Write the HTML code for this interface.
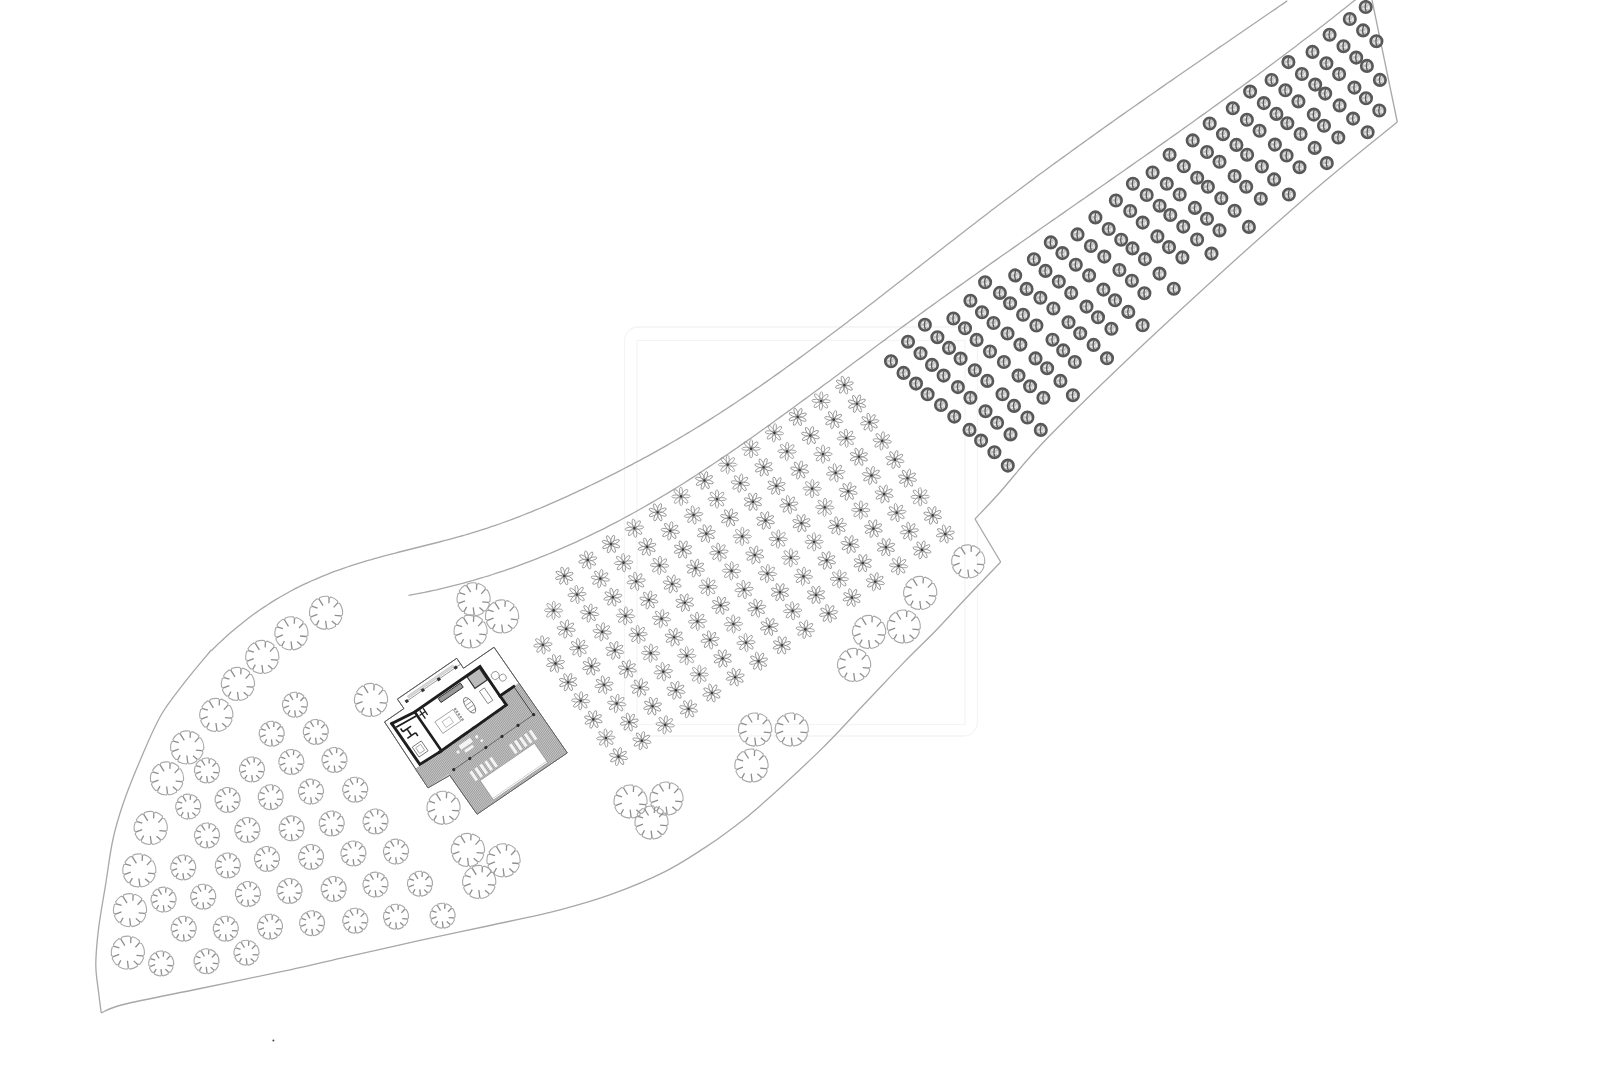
<!DOCTYPE html><html><head><meta charset="utf-8"><style>html,body{margin:0;padding:0;background:#fff;}svg{display:block}</style></head><body>
<svg width="1600" height="1066" viewBox="0 0 1600 1066">
<defs>
<g id="tl"><path d="M15.86 4.90A16.60 16.60 0 0 1 11.77 11.71L9.64 11.49L9.48 13.62A16.60 16.60 0 0 1 2.07 16.47L0.52 14.99L-0.91 16.57A16.60 16.60 0 0 1 -9.00 13.95L-9.23 11.82L-11.35 12.11A16.60 16.60 0 0 1 -15.58 5.72L-14.49 3.88L-16.36 2.84A16.60 16.60 0 0 1 -15.61 -5.63L-13.59 -6.34L-14.35 -8.34A16.60 16.60 0 0 1 -8.84 -14.05L-6.81 -13.37L-6.18 -15.41A16.60 16.60 0 0 1 1.98 -16.48L3.12 -14.67L4.90 -15.86A16.60 16.60 0 0 1 11.71 -11.77L11.49 -9.64L13.62 -9.48A16.60 16.60 0 0 1 16.48 1.98L14.67 3.12L15.86 4.90" fill="none" stroke="#a8a8a8" stroke-width="1.1"/><path d="M14.67 3.12L8.65 2.58M9.64 11.49L5.81 8.17M0.52 14.99L-0.36 8.02M-9.23 11.82L-7.00 7.62M-14.49 3.88L-8.55 1.57M-13.59 -6.34L-8.43 -4.78M-6.81 -13.37L-2.93 -7.11M3.12 -14.67L2.86 -9.60M11.49 -9.64L7.62 -5.42" stroke="#8e8e8e" stroke-width="1.3"/></g>
<g id="ts"><path d="M11.94 3.69A12.50 12.50 0 0 1 8.86 8.81L7.01 8.35L7.14 10.26A12.50 12.50 0 0 1 1.56 12.40L0.38 10.89L-0.69 12.48A12.50 12.50 0 0 1 -6.78 10.50L-6.71 8.59L-8.55 9.12A12.50 12.50 0 0 1 -11.73 4.31L-10.53 2.82L-12.32 2.14A12.50 12.50 0 0 1 -11.76 -4.24L-9.88 -4.61L-10.81 -6.28A12.50 12.50 0 0 1 -6.65 -10.58L-4.95 -9.71L-4.65 -11.60A12.50 12.50 0 0 1 1.49 -12.41L2.27 -10.66L3.69 -11.94A12.50 12.50 0 0 1 8.81 -8.86L8.35 -7.01L10.26 -7.14A12.50 12.50 0 0 1 12.41 1.49L10.66 2.27L11.94 3.69" fill="none" stroke="#a8a8a8" stroke-width="1.1"/><path d="M10.66 2.27L6.13 1.83M7.01 8.35L4.14 5.83M0.38 10.89L-0.25 5.64M-6.71 8.59L-5.01 5.45M-10.53 2.82L-6.05 1.11M-9.88 -4.61L-6.00 -3.41M-4.95 -9.71L-2.06 -4.99M2.27 -10.66L2.04 -6.85M8.35 -7.01L5.42 -3.85" stroke="#8e8e8e" stroke-width="1.3"/></g>
<g id="fl" fill="none" stroke="#939393" stroke-width="0.85"><ellipse cx="4.7" cy="0" rx="4.6" ry="1.55" transform="rotate(10)"/><ellipse cx="4.7" cy="0" rx="4.6" ry="1.55" transform="rotate(55)"/><ellipse cx="4.7" cy="0" rx="4.6" ry="1.55" transform="rotate(100)"/><ellipse cx="4.7" cy="0" rx="4.6" ry="1.55" transform="rotate(145)"/><ellipse cx="4.7" cy="0" rx="4.6" ry="1.55" transform="rotate(190)"/><ellipse cx="4.7" cy="0" rx="4.6" ry="1.55" transform="rotate(235)"/><ellipse cx="4.7" cy="0" rx="4.6" ry="1.55" transform="rotate(280)"/><ellipse cx="4.7" cy="0" rx="4.6" ry="1.55" transform="rotate(325)"/><circle r="1.3" fill="#3a3a3a" stroke="none"/></g>
<g id="dc"><circle r="5.75" fill="#c4c4c4" stroke="#585858" stroke-width="2.6"/><path d="M-3.2 -1.8 L1.5 -3 M-3 1.8 L2 1.2 M2.5 -1 L3.5 2.5" fill="none" stroke="#f2f2f2" stroke-width="1.1"/><path d="M0.5 -4.5 Q-1.5 0 0.5 4.5" fill="none" stroke="#5a5a5a" stroke-width="1.3"/></g>
</defs>
<g fill="none" stroke="#f4f4f4" stroke-width="1.3"><rect x="624.5" y="327" width="353" height="409" rx="14"/><rect x="637" y="340.5" width="328" height="384"/></g>
<g fill="none" stroke="#a8a8a8" stroke-width="1.3" stroke-linejoin="round">
<path d="M101.2 1012.9C100.8 1009.3 99.4 999.5 98.5 991.5C97.6 983.5 95.8 975.2 95.8 964.8C95.8 954.4 96.9 942.5 98.5 929.1C100.1 915.7 103.2 899.5 105.6 884.6C108.0 869.8 109.9 853.5 112.8 840.0C115.7 826.5 118.6 817.0 123.1 803.8C127.6 790.6 133.7 775.4 140.0 760.7C146.3 746.0 153.2 728.8 160.7 715.7C168.2 702.6 176.6 692.9 185.0 681.9C193.4 670.9 206.9 655.3 211.3 650.0"/>
<polyline points="211.3,650.7 215.3,646.8 219.3,642.9 223.3,639.2 227.3,635.6 231.3,632.1 235.3,628.7 239.3,625.4 243.3,622.2 247.3,619.1 251.3,616.1 255.3,613.1 259.3,610.3 263.3,607.6 267.3,605.0 271.3,602.4 275.3,599.9 279.3,597.5 283.3,595.2 287.3,593.0 291.3,590.8 295.3,588.7 299.3,586.7 303.3,584.7 307.3,582.9 311.3,581.0 315.3,579.3 319.3,577.6 323.3,575.9 327.3,574.3 331.3,572.7 335.3,571.2 339.3,569.8 343.3,568.4 347.3,567.0 351.3,565.7 355.3,564.4 359.3,563.1 363.3,561.9 367.3,560.7 371.3,559.6 375.3,558.4 379.3,557.3 383.3,556.2 387.3,555.2 391.3,554.1 395.3,553.1 399.3,552.0 403.3,551.0 407.3,550.0 411.3,549.0 415.3,548.0 419.3,547.0 423.3,546.0 427.3,545.0 431.3,544.0 435.3,543.0 439.3,542.0 443.3,540.9 447.3,539.9 451.3,538.8 455.3,537.7 459.3,536.6 463.3,535.5 467.3,534.3 471.3,533.1 475.3,531.9 479.3,530.7 483.3,529.4 487.3,528.1 491.3,526.7 495.3,525.4 499.3,524.0 503.3,522.5 507.3,521.1 511.3,519.6 515.3,518.1 519.3,516.6 523.3,515.0 527.3,513.4 531.3,511.8 535.3,510.2 539.3,508.5 543.3,506.8 547.3,505.1 551.3,503.4 555.3,501.6 559.3,499.9 563.3,498.1 567.3,496.3 571.3,494.4 575.3,492.6 579.3,490.7 583.3,488.8 587.3,486.9 591.3,485.0 595.3,483.1 599.3,481.1 603.3,479.1 607.3,477.1 611.3,475.1 615.3,473.1 619.3,471.1 623.3,469.0 627.3,466.9 631.3,464.8 635.3,462.7 639.3,460.6 643.3,458.4 647.3,456.3 651.3,454.1 655.3,451.9 659.3,449.6 663.3,447.4 667.3,445.1 671.3,442.8 675.3,440.5 679.3,438.1 683.3,435.8 687.3,433.4 691.3,431.0 695.3,428.5 699.3,426.1 703.3,423.6 707.3,421.1 711.3,418.6 715.3,416.0 719.3,413.5 723.3,410.9 727.3,408.3 731.3,405.6 735.3,403.0 739.3,400.3 743.3,397.6 747.3,394.9 751.3,392.2 755.3,389.4 759.3,386.7 763.3,383.9 767.3,381.1 771.3,378.3 775.3,375.4 779.3,372.6 783.3,369.7 787.3,366.8 791.3,363.9 795.3,361.0 799.3,358.1 803.3,355.2 807.3,352.2 811.3,349.3 815.3,346.3 819.3,343.3 823.3,340.3 827.3,337.3 831.3,334.3 835.3,331.3 839.3,328.3 843.3,325.2 847.3,322.2 851.3,319.1 855.3,316.1 859.3,313.0 863.3,309.9 867.3,306.8 871.3,303.7 875.3,300.7 879.3,297.6 883.3,294.5 887.3,291.3 891.3,288.2 895.3,285.1 899.3,282.0 903.3,278.9 907.3,275.8 911.3,272.7 915.3,269.5 919.3,266.4 923.3,263.3 927.3,260.2 931.3,257.0 935.3,253.9 939.3,250.8 943.3,247.7 947.3,244.6 951.3,241.5 955.3,238.4 959.3,235.3 963.3,232.2 967.3,229.1 971.3,226.0 975.3,222.9 979.3,219.8 983.3,216.8 987.3,213.7 991.3,210.6 995.3,207.6 999.3,204.6 1003.3,201.5 1007.3,198.5 1011.3,195.5 1015.3,192.5 1019.3,189.5 1023.3,186.5 1027.3,183.5 1031.3,180.6 1035.3,177.6 1039.3,174.6 1043.3,171.7 1047.3,168.7 1051.3,165.8 1055.3,162.9 1059.3,160.0 1063.3,157.1 1067.3,154.2 1071.3,151.3 1075.3,148.4 1079.3,145.5 1083.3,142.6 1087.3,139.7 1091.3,136.9 1095.3,134.0 1099.3,131.1 1103.3,128.3 1107.3,125.4 1111.3,122.6 1115.3,119.8 1119.3,116.9 1123.3,114.1 1127.3,111.3 1131.3,108.5 1135.3,105.7 1139.3,102.9 1143.3,100.1 1147.3,97.3 1151.3,94.5 1155.3,91.7 1159.3,88.9 1163.3,86.1 1167.3,83.3 1171.3,80.6 1175.3,77.8 1179.3,75.0 1183.3,72.3 1187.3,69.5 1191.3,66.7 1195.3,64.0 1199.3,61.2 1203.3,58.5 1207.3,55.7 1211.3,52.9 1215.3,50.2 1219.3,47.4 1223.3,44.7 1227.3,42.0 1231.3,39.2 1235.3,36.5 1239.3,33.7 1243.3,31.0 1247.3,28.2 1251.3,25.5 1255.3,22.8 1259.3,20.0 1263.3,17.3 1267.3,14.5 1271.3,11.8 1275.3,9.1 1279.3,6.3 1283.3,3.6 1287.3,0.8"/>
<polyline points="408.5,595.4 412.5,594.6 416.5,593.9 420.5,593.1 424.5,592.3 428.5,591.5 432.5,590.6 436.5,589.8 440.5,588.8 444.5,587.9 448.5,586.9 452.5,585.9 456.5,584.9 460.5,583.9 464.5,582.8 468.5,581.7 472.5,580.6 476.5,579.4 480.5,578.2 484.5,577.0 488.5,575.8 492.5,574.5 496.5,573.2 500.5,571.9 504.5,570.6 508.5,569.2 512.5,567.8 516.5,566.4 520.5,564.9 524.5,563.4 528.5,561.9 532.5,560.4 536.5,558.8 540.5,557.2 544.5,555.6 548.5,554.0 552.5,552.3 556.5,550.6 560.5,548.9 564.5,547.2 568.5,545.4 572.5,543.6 576.5,541.8 580.5,539.9 584.5,538.0 588.5,536.1 592.5,534.2 596.5,532.2 600.5,530.3 604.5,528.3 608.5,526.2 612.5,524.2 616.5,522.1 620.5,520.0 624.5,517.8 628.5,515.7 632.5,513.5 636.5,511.2 640.5,509.0 644.5,506.7 648.5,504.4 652.5,502.1 656.5,499.8 660.5,497.4 664.5,495.0 668.5,492.6 672.5,490.1 676.5,487.7 680.5,485.2 684.5,482.7 688.5,480.1 692.5,477.6 696.5,475.0 700.5,472.4 704.5,469.8 708.5,467.1 712.5,464.5 716.5,461.8 720.5,459.1 724.5,456.4 728.5,453.7 732.5,450.9 736.5,448.2 740.5,445.4 744.5,442.6 748.5,439.8 752.5,437.0 756.5,434.2 760.5,431.3 764.5,428.5 768.5,425.6 772.5,422.7 776.5,419.8 780.5,416.9 784.5,414.0 788.5,411.1 792.5,408.2 796.5,405.3 800.5,402.3 804.5,399.4 808.5,396.5 812.5,393.5 816.5,390.5 820.5,387.6 824.5,384.6 828.5,381.7 832.5,378.7 836.5,375.7 840.5,372.7 844.5,369.8 848.5,366.8 852.5,363.8 856.5,360.8 860.5,357.9 864.5,354.9 868.5,351.9 872.5,349.0 876.5,346.0 880.5,343.0 884.5,340.1 888.5,337.1 892.5,334.2 896.5,331.3 900.5,328.3 904.5,325.4 908.5,322.5 912.5,319.6 916.5,316.7 920.5,313.8 924.5,310.9 928.5,308.0 932.5,305.1 936.5,302.2 940.5,299.3 944.5,296.5 948.5,293.6 952.5,290.8 956.5,287.9 960.5,285.1 964.5,282.2 968.5,279.4 972.5,276.5 976.5,273.7 980.5,270.9 984.5,268.1 988.5,265.2 992.5,262.4 996.5,259.6 1000.5,256.8 1004.5,254.0 1008.5,251.2 1012.5,248.4 1016.5,245.6 1020.5,242.8 1024.5,240.0 1028.5,237.2 1032.5,234.4 1036.5,231.6 1040.5,228.8 1044.5,226.0 1048.5,223.2 1052.5,220.4 1056.5,217.7 1060.5,214.9 1064.5,212.1 1068.5,209.3 1072.5,206.5 1076.5,203.7 1080.5,200.9 1084.5,198.2 1088.5,195.4 1092.5,192.6 1096.5,189.8 1100.5,187.0 1104.5,184.2 1108.5,181.4 1112.5,178.6 1116.5,175.8 1120.5,173.0 1124.5,170.2 1128.5,167.4 1132.5,164.6 1136.5,161.8 1140.5,159.0 1144.5,156.2 1148.5,153.4 1152.5,150.6 1156.5,147.7 1160.5,144.9 1164.5,142.1 1168.5,139.3 1172.5,136.4 1176.5,133.6 1180.5,130.7 1184.5,127.9 1188.5,125.0 1192.5,122.2 1196.5,119.3 1200.5,116.4 1204.5,113.6 1208.5,110.7 1212.5,107.8 1216.5,104.9 1220.5,102.0 1224.5,99.1 1228.5,96.2 1232.5,93.3 1236.5,90.4 1240.5,87.4 1244.5,84.5 1248.5,81.6 1252.5,78.6 1256.5,75.7 1260.5,72.7 1264.5,69.7 1268.5,66.8 1272.5,63.8 1276.5,60.8 1280.5,57.8 1284.5,54.8 1288.5,51.7 1292.5,48.7 1296.5,45.7 1300.5,42.6 1304.5,39.6 1308.5,36.5 1312.5,33.4 1316.5,30.4 1320.5,27.3 1324.5,24.2 1328.5,21.0 1332.5,17.9 1336.5,14.8 1340.5,11.6 1344.5,8.5 1348.5,5.3 1352.5,2.1 1356.0,-0.6"/>
<polyline points="1372.0,0.0 1397.3,122.0"/>
<path d="M1397.3 122.0C1381.1 135.4 1339.5 167.9 1300.0 202.4C1260.5 236.9 1201.6 290.3 1160.0 329.0C1118.4 367.7 1077.3 407.6 1050.6 434.8C1023.9 462.0 1012.6 478.2 1000.0 492.2C987.4 506.2 979.2 514.5 975.0 519.0"/>
<polyline points="975.0,519.0 1000.7,562.0"/>
<path d="M1000.7 562.0C994.6 568.3 975.2 588.5 964.3 600.0C953.4 611.5 945.4 620.7 935.4 631.0C925.4 641.3 916.4 649.5 904.4 661.9C892.4 674.3 877.0 690.8 863.2 705.2C849.5 719.7 839.1 731.8 821.9 748.6C804.7 765.4 775.2 792.5 760.0 806.0C744.8 819.5 740.0 822.5 730.7 829.5C721.5 836.5 715.5 840.9 704.5 847.9C693.5 854.9 680.3 863.9 665.0 871.6C649.7 879.3 630.0 887.5 612.5 893.9C595.0 900.3 580.4 904.5 560.0 909.8C539.6 915.1 513.3 920.4 490.0 925.5C466.7 930.6 443.3 935.3 420.0 940.4C396.7 945.5 373.3 950.9 350.0 956.1C326.7 961.4 305.4 966.4 280.0 971.9C254.7 977.4 224.0 983.6 197.9 989.0C171.8 994.4 139.6 1000.5 123.5 1004.5C107.4 1008.5 104.9 1011.5 101.2 1012.9"/>
</g>
<use href="#tl" x="326.0" y="612.8"/>
<use href="#tl" x="291.4" y="633.4"/>
<use href="#tl" x="262.3" y="657.0"/>
<use href="#tl" x="237.9" y="684.0"/>
<use href="#tl" x="216.3" y="715.0"/>
<use href="#tl" x="187.2" y="747.5"/>
<use href="#tl" x="167.0" y="778.5"/>
<use href="#tl" x="150.7" y="828.0"/>
<use href="#tl" x="139.3" y="870.5"/>
<use href="#tl" x="130.0" y="910.2"/>
<use href="#tl" x="127.8" y="952.7"/>
<use href="#tl" x="371.0" y="700.0"/>
<use href="#tl" x="443.5" y="807.8"/>
<use href="#tl" x="467.9" y="850.0"/>
<use href="#tl" x="503.5" y="860.4"/>
<use href="#tl" x="479.2" y="882.0"/>
<use href="#tl" x="473.6" y="599.3"/>
<use href="#tl" x="502.1" y="616.5"/>
<use href="#tl" x="470.6" y="631.5"/>
<use href="#tl" x="968.2" y="561.5"/>
<use href="#tl" x="920.2" y="593.0"/>
<use href="#tl" x="903.7" y="626.6"/>
<use href="#tl" x="869.1" y="632.0"/>
<use href="#tl" x="854.1" y="665.0"/>
<use href="#tl" x="755.1" y="729.6"/>
<use href="#tl" x="791.7" y="729.6"/>
<use href="#tl" x="751.5" y="765.6"/>
<use href="#tl" x="630.5" y="801.6"/>
<use href="#tl" x="666.5" y="798.6"/>
<use href="#tl" x="651.5" y="822.6"/>
<use href="#ts" x="295.0" y="704.8"/>
<use href="#ts" x="271.7" y="733.8"/>
<use href="#ts" x="315.8" y="732.0"/>
<use href="#ts" x="291.4" y="762.0"/>
<use href="#ts" x="334.5" y="760.0"/>
<use href="#ts" x="252.0" y="769.5"/>
<use href="#ts" x="207.0" y="770.5"/>
<use href="#ts" x="188.2" y="806.6"/>
<use href="#ts" x="227.6" y="800.0"/>
<use href="#ts" x="270.7" y="797.2"/>
<use href="#ts" x="311.0" y="791.6"/>
<use href="#ts" x="355.2" y="789.7"/>
<use href="#ts" x="207.0" y="835.5"/>
<use href="#ts" x="247.4" y="830.0"/>
<use href="#ts" x="291.6" y="828.4"/>
<use href="#ts" x="331.7" y="823.5"/>
<use href="#ts" x="375.5" y="821.5"/>
<use href="#ts" x="183.2" y="867.5"/>
<use href="#ts" x="227.8" y="865.5"/>
<use href="#ts" x="267.0" y="859.0"/>
<use href="#ts" x="311.1" y="857.0"/>
<use href="#ts" x="353.4" y="853.5"/>
<use href="#ts" x="396.0" y="851.6"/>
<use href="#ts" x="163.6" y="899.6"/>
<use href="#ts" x="203.2" y="896.7"/>
<use href="#ts" x="248.0" y="894.0"/>
<use href="#ts" x="289.5" y="891.0"/>
<use href="#ts" x="333.7" y="889.0"/>
<use href="#ts" x="375.5" y="884.6"/>
<use href="#ts" x="420.0" y="883.8"/>
<use href="#ts" x="183.7" y="928.7"/>
<use href="#ts" x="225.8" y="928.7"/>
<use href="#ts" x="270.0" y="926.7"/>
<use href="#ts" x="312.1" y="923.3"/>
<use href="#ts" x="355.3" y="920.7"/>
<use href="#ts" x="396.0" y="916.7"/>
<use href="#ts" x="442.6" y="915.7"/>
<use href="#ts" x="161.2" y="963.5"/>
<use href="#ts" x="206.5" y="961.3"/>
<use href="#ts" x="246.5" y="952.7"/>
<use href="#fl" transform="translate(844.4 385.1) rotate(20)"/>
<use href="#fl" transform="translate(857.0 403.7) rotate(9)"/>
<use href="#fl" transform="translate(869.6 422.3) rotate(25)"/>
<use href="#fl" transform="translate(882.2 440.9) rotate(41)"/>
<use href="#fl" transform="translate(894.9 459.6) rotate(3)"/>
<use href="#fl" transform="translate(907.5 478.2) rotate(4)"/>
<use href="#fl" transform="translate(920.1 496.8) rotate(34)"/>
<use href="#fl" transform="translate(932.7 515.4) rotate(6)"/>
<use href="#fl" transform="translate(945.3 534.0) rotate(23)"/>
<use href="#fl" transform="translate(821.1 401.0) rotate(37)"/>
<use href="#fl" transform="translate(833.7 419.6) rotate(3)"/>
<use href="#fl" transform="translate(846.3 438.2) rotate(32)"/>
<use href="#fl" transform="translate(858.9 456.8) rotate(13)"/>
<use href="#fl" transform="translate(871.5 475.5) rotate(2)"/>
<use href="#fl" transform="translate(884.1 494.1) rotate(5)"/>
<use href="#fl" transform="translate(896.7 512.7) rotate(27)"/>
<use href="#fl" transform="translate(909.3 531.3) rotate(26)"/>
<use href="#fl" transform="translate(922.0 549.9) rotate(4)"/>
<use href="#fl" transform="translate(797.7 416.9) rotate(15)"/>
<use href="#fl" transform="translate(810.4 435.5) rotate(5)"/>
<use href="#fl" transform="translate(823.0 454.1) rotate(35)"/>
<use href="#fl" transform="translate(835.6 472.8) rotate(27)"/>
<use href="#fl" transform="translate(848.2 491.4) rotate(3)"/>
<use href="#fl" transform="translate(860.8 510.0) rotate(36)"/>
<use href="#fl" transform="translate(873.4 528.6) rotate(7)"/>
<use href="#fl" transform="translate(886.0 547.2) rotate(14)"/>
<use href="#fl" transform="translate(898.6 565.8) rotate(40)"/>
<use href="#fl" transform="translate(774.4 432.8) rotate(40)"/>
<use href="#fl" transform="translate(787.0 451.4) rotate(37)"/>
<use href="#fl" transform="translate(799.6 470.0) rotate(3)"/>
<use href="#fl" transform="translate(812.2 488.6) rotate(36)"/>
<use href="#fl" transform="translate(824.8 507.3) rotate(37)"/>
<use href="#fl" transform="translate(837.4 525.9) rotate(25)"/>
<use href="#fl" transform="translate(850.1 544.5) rotate(3)"/>
<use href="#fl" transform="translate(862.7 563.1) rotate(14)"/>
<use href="#fl" transform="translate(875.3 581.7) rotate(2)"/>
<use href="#fl" transform="translate(751.1 448.7) rotate(35)"/>
<use href="#fl" transform="translate(763.7 467.3) rotate(8)"/>
<use href="#fl" transform="translate(776.3 485.9) rotate(18)"/>
<use href="#fl" transform="translate(788.9 504.6) rotate(26)"/>
<use href="#fl" transform="translate(801.5 523.2) rotate(9)"/>
<use href="#fl" transform="translate(814.1 541.8) rotate(34)"/>
<use href="#fl" transform="translate(826.7 560.4) rotate(7)"/>
<use href="#fl" transform="translate(839.3 579.0) rotate(36)"/>
<use href="#fl" transform="translate(851.9 597.6) rotate(19)"/>
<use href="#fl" transform="translate(727.7 464.6) rotate(35)"/>
<use href="#fl" transform="translate(740.3 483.2) rotate(43)"/>
<use href="#fl" transform="translate(752.9 501.8) rotate(11)"/>
<use href="#fl" transform="translate(765.5 520.5) rotate(6)"/>
<use href="#fl" transform="translate(778.2 539.1) rotate(37)"/>
<use href="#fl" transform="translate(790.8 557.7) rotate(36)"/>
<use href="#fl" transform="translate(803.4 576.3) rotate(40)"/>
<use href="#fl" transform="translate(816.0 594.9) rotate(12)"/>
<use href="#fl" transform="translate(828.6 613.5) rotate(23)"/>
<use href="#fl" transform="translate(704.4 480.5) rotate(6)"/>
<use href="#fl" transform="translate(717.0 499.1) rotate(35)"/>
<use href="#fl" transform="translate(729.6 517.7) rotate(4)"/>
<use href="#fl" transform="translate(742.2 536.4) rotate(36)"/>
<use href="#fl" transform="translate(754.8 555.0) rotate(3)"/>
<use href="#fl" transform="translate(767.4 573.6) rotate(39)"/>
<use href="#fl" transform="translate(780.0 592.2) rotate(13)"/>
<use href="#fl" transform="translate(792.6 610.8) rotate(31)"/>
<use href="#fl" transform="translate(805.3 629.4) rotate(43)"/>
<use href="#fl" transform="translate(681.0 496.4) rotate(34)"/>
<use href="#fl" transform="translate(693.6 515.0) rotate(27)"/>
<use href="#fl" transform="translate(706.3 533.6) rotate(20)"/>
<use href="#fl" transform="translate(718.9 552.2) rotate(29)"/>
<use href="#fl" transform="translate(731.5 570.9) rotate(37)"/>
<use href="#fl" transform="translate(744.1 589.5) rotate(29)"/>
<use href="#fl" transform="translate(756.7 608.1) rotate(23)"/>
<use href="#fl" transform="translate(769.3 626.7) rotate(19)"/>
<use href="#fl" transform="translate(781.9 645.3) rotate(15)"/>
<use href="#fl" transform="translate(657.7 512.3) rotate(11)"/>
<use href="#fl" transform="translate(670.3 530.9) rotate(44)"/>
<use href="#fl" transform="translate(682.9 549.5) rotate(15)"/>
<use href="#fl" transform="translate(695.5 568.1) rotate(5)"/>
<use href="#fl" transform="translate(708.1 586.8) rotate(36)"/>
<use href="#fl" transform="translate(720.7 605.4) rotate(19)"/>
<use href="#fl" transform="translate(733.4 624.0) rotate(33)"/>
<use href="#fl" transform="translate(746.0 642.6) rotate(31)"/>
<use href="#fl" transform="translate(758.6 661.2) rotate(21)"/>
<use href="#fl" transform="translate(634.4 528.2) rotate(28)"/>
<use href="#fl" transform="translate(647.0 546.8) rotate(18)"/>
<use href="#fl" transform="translate(659.6 565.4) rotate(38)"/>
<use href="#fl" transform="translate(672.2 584.0) rotate(4)"/>
<use href="#fl" transform="translate(684.8 602.7) rotate(7)"/>
<use href="#fl" transform="translate(697.4 621.3) rotate(32)"/>
<use href="#fl" transform="translate(710.0 639.9) rotate(26)"/>
<use href="#fl" transform="translate(722.6 658.5) rotate(10)"/>
<use href="#fl" transform="translate(735.2 677.1) rotate(21)"/>
<use href="#fl" transform="translate(611.0 544.1) rotate(9)"/>
<use href="#fl" transform="translate(623.6 562.7) rotate(31)"/>
<use href="#fl" transform="translate(636.2 581.3) rotate(26)"/>
<use href="#fl" transform="translate(648.9 600.0) rotate(2)"/>
<use href="#fl" transform="translate(661.5 618.6) rotate(42)"/>
<use href="#fl" transform="translate(674.1 637.2) rotate(4)"/>
<use href="#fl" transform="translate(686.7 655.8) rotate(35)"/>
<use href="#fl" transform="translate(699.3 674.4) rotate(36)"/>
<use href="#fl" transform="translate(711.9 693.0) rotate(20)"/>
<use href="#fl" transform="translate(587.7 560.0) rotate(21)"/>
<use href="#fl" transform="translate(600.3 578.6) rotate(44)"/>
<use href="#fl" transform="translate(612.9 597.2) rotate(22)"/>
<use href="#fl" transform="translate(625.5 615.9) rotate(38)"/>
<use href="#fl" transform="translate(638.1 634.5) rotate(31)"/>
<use href="#fl" transform="translate(650.7 653.1) rotate(37)"/>
<use href="#fl" transform="translate(663.3 671.7) rotate(29)"/>
<use href="#fl" transform="translate(675.9 690.3) rotate(4)"/>
<use href="#fl" transform="translate(688.6 708.9) rotate(5)"/>
<use href="#fl" transform="translate(564.3 575.9) rotate(17)"/>
<use href="#fl" transform="translate(577.0 594.5) rotate(30)"/>
<use href="#fl" transform="translate(589.6 613.1) rotate(44)"/>
<use href="#fl" transform="translate(602.2 631.8) rotate(42)"/>
<use href="#fl" transform="translate(614.8 650.4) rotate(4)"/>
<use href="#fl" transform="translate(627.4 669.0) rotate(3)"/>
<use href="#fl" transform="translate(640.0 687.6) rotate(44)"/>
<use href="#fl" transform="translate(652.6 706.2) rotate(19)"/>
<use href="#fl" transform="translate(665.2 724.8) rotate(41)"/>
<use href="#fl" transform="translate(553.6 610.4) rotate(36)"/>
<use href="#fl" transform="translate(566.2 629.0) rotate(43)"/>
<use href="#fl" transform="translate(578.8 647.6) rotate(28)"/>
<use href="#fl" transform="translate(591.4 666.3) rotate(18)"/>
<use href="#fl" transform="translate(604.0 684.9) rotate(24)"/>
<use href="#fl" transform="translate(616.7 703.5) rotate(42)"/>
<use href="#fl" transform="translate(629.3 722.1) rotate(22)"/>
<use href="#fl" transform="translate(641.9 740.7) rotate(1)"/>
<use href="#fl" transform="translate(542.9 644.9) rotate(29)"/>
<use href="#fl" transform="translate(555.5 663.5) rotate(22)"/>
<use href="#fl" transform="translate(568.1 682.2) rotate(10)"/>
<use href="#fl" transform="translate(580.7 700.8) rotate(39)"/>
<use href="#fl" transform="translate(593.3 719.4) rotate(7)"/>
<use href="#fl" transform="translate(605.9 738.0) rotate(31)"/>
<use href="#fl" transform="translate(618.5 756.6) rotate(3)"/>
<use href="#dc" x="970.4" y="300.7"/>
<use href="#dc" x="999.9" y="292.9"/>
<use href="#dc" x="1026.6" y="288.9"/>
<use href="#dc" x="1040.4" y="297.8"/>
<use href="#dc" x="1071.2" y="292.9"/>
<use href="#dc" x="982.0" y="312.3"/>
<use href="#dc" x="1010.1" y="303.2"/>
<use href="#dc" x="1053.4" y="308.5"/>
<use href="#dc" x="953.4" y="318.5"/>
<use href="#dc" x="993.5" y="323.0"/>
<use href="#dc" x="1023.1" y="314.8"/>
<use href="#dc" x="1036.4" y="325.5"/>
<use href="#dc" x="1068.5" y="322.3"/>
<use href="#dc" x="924.9" y="324.8"/>
<use href="#dc" x="965.0" y="328.3"/>
<use href="#dc" x="1007.5" y="333.5"/>
<use href="#dc" x="1052.5" y="339.7"/>
<use href="#dc" x="937.4" y="337.2"/>
<use href="#dc" x="976.6" y="339.9"/>
<use href="#dc" x="1020.4" y="344.6"/>
<use href="#dc" x="1063.2" y="350.4"/>
<use href="#dc" x="908.0" y="341.7"/>
<use href="#dc" x="949.0" y="347.9"/>
<use href="#dc" x="990.0" y="351.5"/>
<use href="#dc" x="1035.5" y="358.4"/>
<use href="#dc" x="1074.8" y="362.0"/>
<use href="#dc" x="920.5" y="353.3"/>
<use href="#dc" x="960.6" y="358.6"/>
<use href="#dc" x="1003.9" y="362.0"/>
<use href="#dc" x="1047.1" y="368.2"/>
<use href="#dc" x="891.0" y="361.3"/>
<use href="#dc" x="932.0" y="364.9"/>
<use href="#dc" x="974.8" y="370.2"/>
<use href="#dc" x="1018.5" y="375.6"/>
<use href="#dc" x="1060.4" y="380.9"/>
<use href="#dc" x="903.5" y="372.9"/>
<use href="#dc" x="943.6" y="375.6"/>
<use href="#dc" x="987.3" y="380.9"/>
<use href="#dc" x="1030.1" y="386.3"/>
<use href="#dc" x="916.0" y="383.6"/>
<use href="#dc" x="957.9" y="387.1"/>
<use href="#dc" x="1002.5" y="394.3"/>
<use href="#dc" x="1043.4" y="397.8"/>
<use href="#dc" x="1072.9" y="395.2"/>
<use href="#dc" x="927.6" y="394.3"/>
<use href="#dc" x="970.4" y="397.8"/>
<use href="#dc" x="1014.0" y="405.9"/>
<use href="#dc" x="941.0" y="405.0"/>
<use href="#dc" x="985.5" y="411.2"/>
<use href="#dc" x="1027.4" y="417.5"/>
<use href="#dc" x="954.3" y="416.6"/>
<use href="#dc" x="997.1" y="422.8"/>
<use href="#dc" x="1040.8" y="429.9"/>
<use href="#dc" x="969.5" y="429.9"/>
<use href="#dc" x="1010.5" y="434.4"/>
<use href="#dc" x="981.1" y="440.6"/>
<use href="#dc" x="994.4" y="452.2"/>
<use href="#dc" x="1007.8" y="465.6"/>
<use href="#dc" x="1132.9" y="183.8"/>
<use href="#dc" x="1146.7" y="195.0"/>
<use href="#dc" x="1159.6" y="205.7"/>
<use href="#dc" x="1170.3" y="215.0"/>
<use href="#dc" x="1183.3" y="226.6"/>
<use href="#dc" x="1197.1" y="239.5"/>
<use href="#dc" x="1166.8" y="183.8"/>
<use href="#dc" x="1179.7" y="194.5"/>
<use href="#dc" x="1194.9" y="207.9"/>
<use href="#dc" x="1115.9" y="200.5"/>
<use href="#dc" x="1130.2" y="211.0"/>
<use href="#dc" x="1142.7" y="222.6"/>
<use href="#dc" x="1157.4" y="236.4"/>
<use href="#dc" x="1169.0" y="247.1"/>
<use href="#dc" x="1182.4" y="257.4"/>
<use href="#dc" x="1095.4" y="217.4"/>
<use href="#dc" x="1108.7" y="229.0"/>
<use href="#dc" x="1121.2" y="239.7"/>
<use href="#dc" x="1132.5" y="248.4"/>
<use href="#dc" x="1144.9" y="259.1"/>
<use href="#dc" x="1159.5" y="273.6"/>
<use href="#dc" x="1173.8" y="288.7"/>
<use href="#dc" x="1077.5" y="234.4"/>
<use href="#dc" x="1090.9" y="246.0"/>
<use href="#dc" x="1104.3" y="256.6"/>
<use href="#dc" x="1119.4" y="270.0"/>
<use href="#dc" x="1131.9" y="280.7"/>
<use href="#dc" x="1144.4" y="293.2"/>
<use href="#dc" x="1050.8" y="242.4"/>
<use href="#dc" x="1062.4" y="253.1"/>
<use href="#dc" x="1075.8" y="264.7"/>
<use href="#dc" x="1089.1" y="275.4"/>
<use href="#dc" x="1103.4" y="289.6"/>
<use href="#dc" x="1115.0" y="300.3"/>
<use href="#dc" x="1128.3" y="311.9"/>
<use href="#dc" x="1142.6" y="325.3"/>
<use href="#dc" x="1033.9" y="259.3"/>
<use href="#dc" x="1045.5" y="270.9"/>
<use href="#dc" x="1058.8" y="281.6"/>
<use href="#dc" x="1086.5" y="306.6"/>
<use href="#dc" x="1098.0" y="317.3"/>
<use href="#dc" x="1111.4" y="328.8"/>
<use href="#dc" x="1015.2" y="275.4"/>
<use href="#dc" x="1080.2" y="333.3"/>
<use href="#dc" x="1093.6" y="344.9"/>
<use href="#dc" x="1107.0" y="358.3"/>
<use href="#dc" x="1271.6" y="80.0"/>
<use href="#dc" x="1285.4" y="90.3"/>
<use href="#dc" x="1298.4" y="101.4"/>
<use href="#dc" x="1313.8" y="114.6"/>
<use href="#dc" x="1324.0" y="125.8"/>
<use href="#dc" x="1301.9" y="74.0"/>
<use href="#dc" x="1315.2" y="84.6"/>
<use href="#dc" x="1325.2" y="93.6"/>
<use href="#dc" x="1250.1" y="91.6"/>
<use href="#dc" x="1263.8" y="103.1"/>
<use href="#dc" x="1276.4" y="113.9"/>
<use href="#dc" x="1287.3" y="123.2"/>
<use href="#dc" x="1300.6" y="134.0"/>
<use href="#dc" x="1314.7" y="147.9"/>
<use href="#dc" x="1326.8" y="163.1"/>
<use href="#dc" x="1232.8" y="108.3"/>
<use href="#dc" x="1246.9" y="119.8"/>
<use href="#dc" x="1259.6" y="130.8"/>
<use href="#dc" x="1274.9" y="144.6"/>
<use href="#dc" x="1286.6" y="155.5"/>
<use href="#dc" x="1299.5" y="167.2"/>
<use href="#dc" x="1209.7" y="123.5"/>
<use href="#dc" x="1223.0" y="134.2"/>
<use href="#dc" x="1236.4" y="144.9"/>
<use href="#dc" x="1247.1" y="154.7"/>
<use href="#dc" x="1261.9" y="166.5"/>
<use href="#dc" x="1274.1" y="179.4"/>
<use href="#dc" x="1288.9" y="194.5"/>
<use href="#dc" x="1192.7" y="140.4"/>
<use href="#dc" x="1207.0" y="152.0"/>
<use href="#dc" x="1219.5" y="161.8"/>
<use href="#dc" x="1234.6" y="176.1"/>
<use href="#dc" x="1246.2" y="186.8"/>
<use href="#dc" x="1260.8" y="198.7"/>
<use href="#dc" x="1169.6" y="154.7"/>
<use href="#dc" x="1183.8" y="166.3"/>
<use href="#dc" x="1197.2" y="177.8"/>
<use href="#dc" x="1207.9" y="186.8"/>
<use href="#dc" x="1221.3" y="198.3"/>
<use href="#dc" x="1234.6" y="210.8"/>
<use href="#dc" x="1248.9" y="226.9"/>
<use href="#dc" x="1152.6" y="172.5"/>
<use href="#dc" x="1207.0" y="218.8"/>
<use href="#dc" x="1219.5" y="230.4"/>
<use href="#dc" x="1211.5" y="253.6"/>
<use href="#dc" x="1365.7" y="7.0"/>
<use href="#dc" x="1349.8" y="19.0"/>
<use href="#dc" x="1363.1" y="30.4"/>
<use href="#dc" x="1376.4" y="41.2"/>
<use href="#dc" x="1329.6" y="34.8"/>
<use href="#dc" x="1343.5" y="46.2"/>
<use href="#dc" x="1356.2" y="57.6"/>
<use href="#dc" x="1366.9" y="65.9"/>
<use href="#dc" x="1379.9" y="79.9"/>
<use href="#dc" x="1312.5" y="51.9"/>
<use href="#dc" x="1326.4" y="63.3"/>
<use href="#dc" x="1339.1" y="74.1"/>
<use href="#dc" x="1354.4" y="87.6"/>
<use href="#dc" x="1366.0" y="98.3"/>
<use href="#dc" x="1379.3" y="110.5"/>
<use href="#dc" x="1288.4" y="62.1"/>
<use href="#dc" x="1339.6" y="105.4"/>
<use href="#dc" x="1353.1" y="118.6"/>
<use href="#dc" x="1367.6" y="132.2"/>
<use href="#dc" x="1338.3" y="137.5"/>
<use href="#dc" x="985.1" y="282.3"/>
<g transform="translate(397.4,699.1) rotate(-34.5)">
  <path d="M0 0 L72 0 L72 12 L109 12 L109.5 140.5 L0.5 140 L0 92.5 L-25 90.5 L-23.5 11.5 L0 11.5 Z" fill="#fff" stroke="#5a5a5a" stroke-width="0.8"/>
  <path d="M86 55.5 L109.3 55.5 L109.5 140.5 L0.5 140 L0 92.5 L-25 90.5 L-25 67.5 L86 67.5 Z" fill="#c9c9c9"/>
  <path d="M-25.0 67.5V90.5M-23.4 67.5V90.5M-21.8 67.5V90.5M-20.2 67.5V90.5M-18.6 67.5V90.5M-17.0 67.5V90.5M-15.4 67.5V90.5M-13.8 67.5V90.5M-12.2 67.5V90.5M-10.6 67.5V90.5M-9.0 67.5V90.5M-7.4 67.5V90.5M-5.8 67.5V90.5M-4.2 67.5V90.5M-2.6 67.5V90.5M-1.0 67.5V90.5M0.6 67.5V140.0M2.2 67.5V140.0M3.8 67.5V140.0M5.4 67.5V140.0M7.0 67.5V140.0M8.6 67.5V140.0M10.2 67.5V140.0M11.8 67.5V140.0M13.4 67.5V140.0M15.0 67.5V140.0M16.6 67.5V140.0M18.2 67.5V140.0M19.8 67.5V140.0M21.4 67.5V140.0M23.0 67.5V114.0M23.0 137.5V140.0M24.6 67.5V114.0M24.6 137.5V140.0M26.2 67.5V114.0M26.2 137.5V140.0M27.8 67.5V114.0M27.8 137.5V140.0M29.4 67.5V114.0M29.4 137.5V140.0M31.0 67.5V114.0M31.0 137.5V140.0M32.6 67.5V114.0M32.6 137.5V140.0M34.2 67.5V114.0M34.2 137.5V140.0M35.8 67.5V114.0M35.8 137.5V140.0M37.4 67.5V114.0M37.4 137.5V140.0M39.0 67.5V114.0M39.0 137.5V140.0M40.6 67.5V114.0M40.6 137.5V140.0M42.2 67.5V114.0M42.2 137.5V140.0M43.8 67.5V114.0M43.8 137.5V140.0M45.4 67.5V114.0M45.4 137.5V140.0M47.0 67.5V114.0M47.0 137.5V140.0M48.6 67.5V114.0M48.6 137.5V140.0M50.2 67.5V114.0M50.2 137.5V140.0M51.8 67.5V114.0M51.8 137.5V140.0M53.4 67.5V114.0M53.4 137.5V140.0M55.0 67.5V114.0M55.0 137.5V140.0M56.6 67.5V114.0M56.6 137.5V140.0M58.2 67.5V114.0M58.2 137.5V140.0M59.8 67.5V114.0M59.8 137.5V140.0M61.4 67.5V114.0M61.4 137.5V140.0M63.0 67.5V114.0M63.0 137.5V140.0M64.6 67.5V114.0M64.6 137.5V140.0M66.2 67.5V114.0M66.2 137.5V140.0M67.8 67.5V114.0M67.8 137.5V140.0M69.4 67.5V114.0M69.4 137.5V140.0M71.0 67.5V114.0M71.0 137.5V140.0M72.6 67.5V114.0M72.6 137.5V140.0M74.2 67.5V114.0M74.2 137.5V140.0M75.8 67.5V114.0M75.8 137.5V140.0M77.4 67.5V114.0M77.4 137.5V140.0M79.0 67.5V114.0M79.0 137.5V140.0M80.6 67.5V114.0M80.6 137.5V140.0M82.2 67.5V114.0M82.2 137.5V140.0M83.8 67.5V114.0M83.8 137.5V140.0M85.4 67.5V114.0M85.4 137.5V140.0M87.0 55.5V114.0M87.0 137.5V140.3M88.6 55.5V140.3M90.2 55.5V140.3M91.8 55.5V140.3M93.4 55.5V140.3M95.0 55.5V140.3M96.6 55.5V140.3M98.2 55.5V140.3M99.8 55.5V140.3M101.4 55.5V140.3M103.0 55.5V140.3M104.6 55.5V140.3M106.2 55.5V140.3M107.8 55.5V140.3M109.4 55.5V140.3" stroke="#8f8f8f" stroke-width="0.7"/>
  <path d="M0 0 L72 0 L72 12 L109 12 L109.5 140.5 L0.5 140 L0 92.5 L-25 90.5 L-23.5 11.5 L0 11.5 Z" fill="none" stroke="#5a5a5a" stroke-width="0.8"/>
  <rect x="22" y="114" width="66" height="23.5" fill="#fff" stroke="#888" stroke-width="0.6"/>
  <path d="M22 135.8 H88" stroke="#aaa" stroke-width="0.5"/>
  <!-- top strip -->
  <path d="M6 7 H72" stroke="#777" stroke-width="0.7"/><rect x="10" y="3.2" width="55" height="2.2" fill="#ddd" stroke="#999" stroke-width="0.4"/>
  <g fill="#333"><rect x="5" y="5.4" width="3.2" height="3.2"/><rect x="24.4" y="5.4" width="3.2" height="3.2"/><rect x="43.8" y="5.4" width="3.2" height="3.2"/><rect x="64.3" y="5.4" width="3.2" height="3.2"/></g>
  <rect x="34" y="22.5" width="27" height="5" fill="#999" stroke="#333" stroke-width="0.9"/>
  <!-- bathroom box -->
  <rect x="70" y="21" width="15" height="14" fill="#bbb" stroke="#333" stroke-width="1.2"/>
  <!-- plants room -->
  <circle cx="94" cy="36" r="4" fill="none" stroke="#777" stroke-width="0.7"/>
  <circle cx="99" cy="42" r="3.5" fill="none" stroke="#777" stroke-width="0.7"/>
  <!-- walls -->
  <g fill="none" stroke="#1e1e1e" stroke-linecap="square">
    <path d="M-18.5 17 L7 20.5 L86.5 20 L86.3 55.5 L103 55.5" stroke-width="2.9"/>
    <path d="M-18.5 17 L-18.5 66.5 L5 67.5" stroke-width="2.9"/>
    <path d="M7 20.5 L7 67.5" stroke-width="2.6"/>
    <path d="M5 67.5 L86.5 66.5 L86.3 55.5" stroke-width="2.9" stroke-dasharray="7 1.6"/>
    <path d="M-16 22.5 L5 24.5" stroke-width="1.8"/>
  </g>
  <path d="M103 55.5 L103 91" stroke="#333" stroke-width="0.8"/>
  <path d="M6.5 90 H104" stroke="#555" stroke-width="0.7"/>
  <g fill="#2a2a2a"><circle cx="6.5" cy="90" r="1.6"/><circle cx="26" cy="90" r="1.6"/><circle cx="45.5" cy="90" r="1.6"/><circle cx="65" cy="90" r="1.6"/><circle cx="84.5" cy="90" r="1.6"/><circle cx="103.5" cy="90" r="1.6"/></g>
  <!-- wing furniture -->
  <path d="M-14 30 H-4 M-14 38 H-4 M-9 30 V38 M-14 30 V26 M-4 38 V42" fill="none" stroke="#222" stroke-width="1.6"/>
  <rect x="-15" y="48" width="11" height="12" fill="none" stroke="#666" stroke-width="0.8"/>
  <rect x="-12.5" y="50.5" width="6" height="7" fill="none" stroke="#777" stroke-width="0.6"/>
  <!-- stair -->
  <path d="M12 22 V32 M9 26 H16 M16 22 V30" stroke="#222" stroke-width="1.3" fill="none"/>
  <!-- living furniture -->
  <rect x="18" y="40" width="22" height="14" fill="none" stroke="#888" stroke-width="0.7"/>
  <rect x="24" y="44" width="9" height="7" fill="none" stroke="#999" stroke-width="0.6"/>
  <path d="M42 40 V56" stroke="#999" stroke-width="2.5" stroke-dasharray="2 1.2"/>
  <ellipse cx="56" cy="46" rx="4" ry="9" fill="none" stroke="#666" stroke-width="0.8"/>
  <path d="M52.5 40 H59.5 M52.5 44 H59.5 M52.5 48 H59.5 M52.5 52 H59.5" stroke="#777" stroke-width="0.7"/>
  <rect x="72" y="40" width="6" height="15" fill="none" stroke="#777" stroke-width="0.8"/>
  <!-- deck furniture -->
  <g fill="#f4f4f4">
    <rect x="18" y="101" width="3" height="11"/><rect x="24" y="101" width="3" height="11"/><rect x="30" y="101" width="3" height="11"/><rect x="36" y="101" width="3" height="11"/><rect x="42" y="101" width="3" height="11"/>
    <rect x="66" y="101" width="3" height="11"/><rect x="72" y="101" width="3" height="11"/><rect x="78" y="101" width="3" height="11"/><rect x="84" y="101" width="3" height="11"/><rect x="90" y="101" width="3" height="11"/>
    <rect x="24" y="73" width="14" height="5"/><rect x="26" y="80" width="10" height="3"/><circle cx="44" cy="76" r="1.6"/><circle cx="20" cy="78" r="1.6"/><circle cx="46" cy="82" r="1.4"/>
  </g>
</g>

<circle cx="273.4" cy="1040.5" r="1" fill="#444"/>
</svg></body></html>
